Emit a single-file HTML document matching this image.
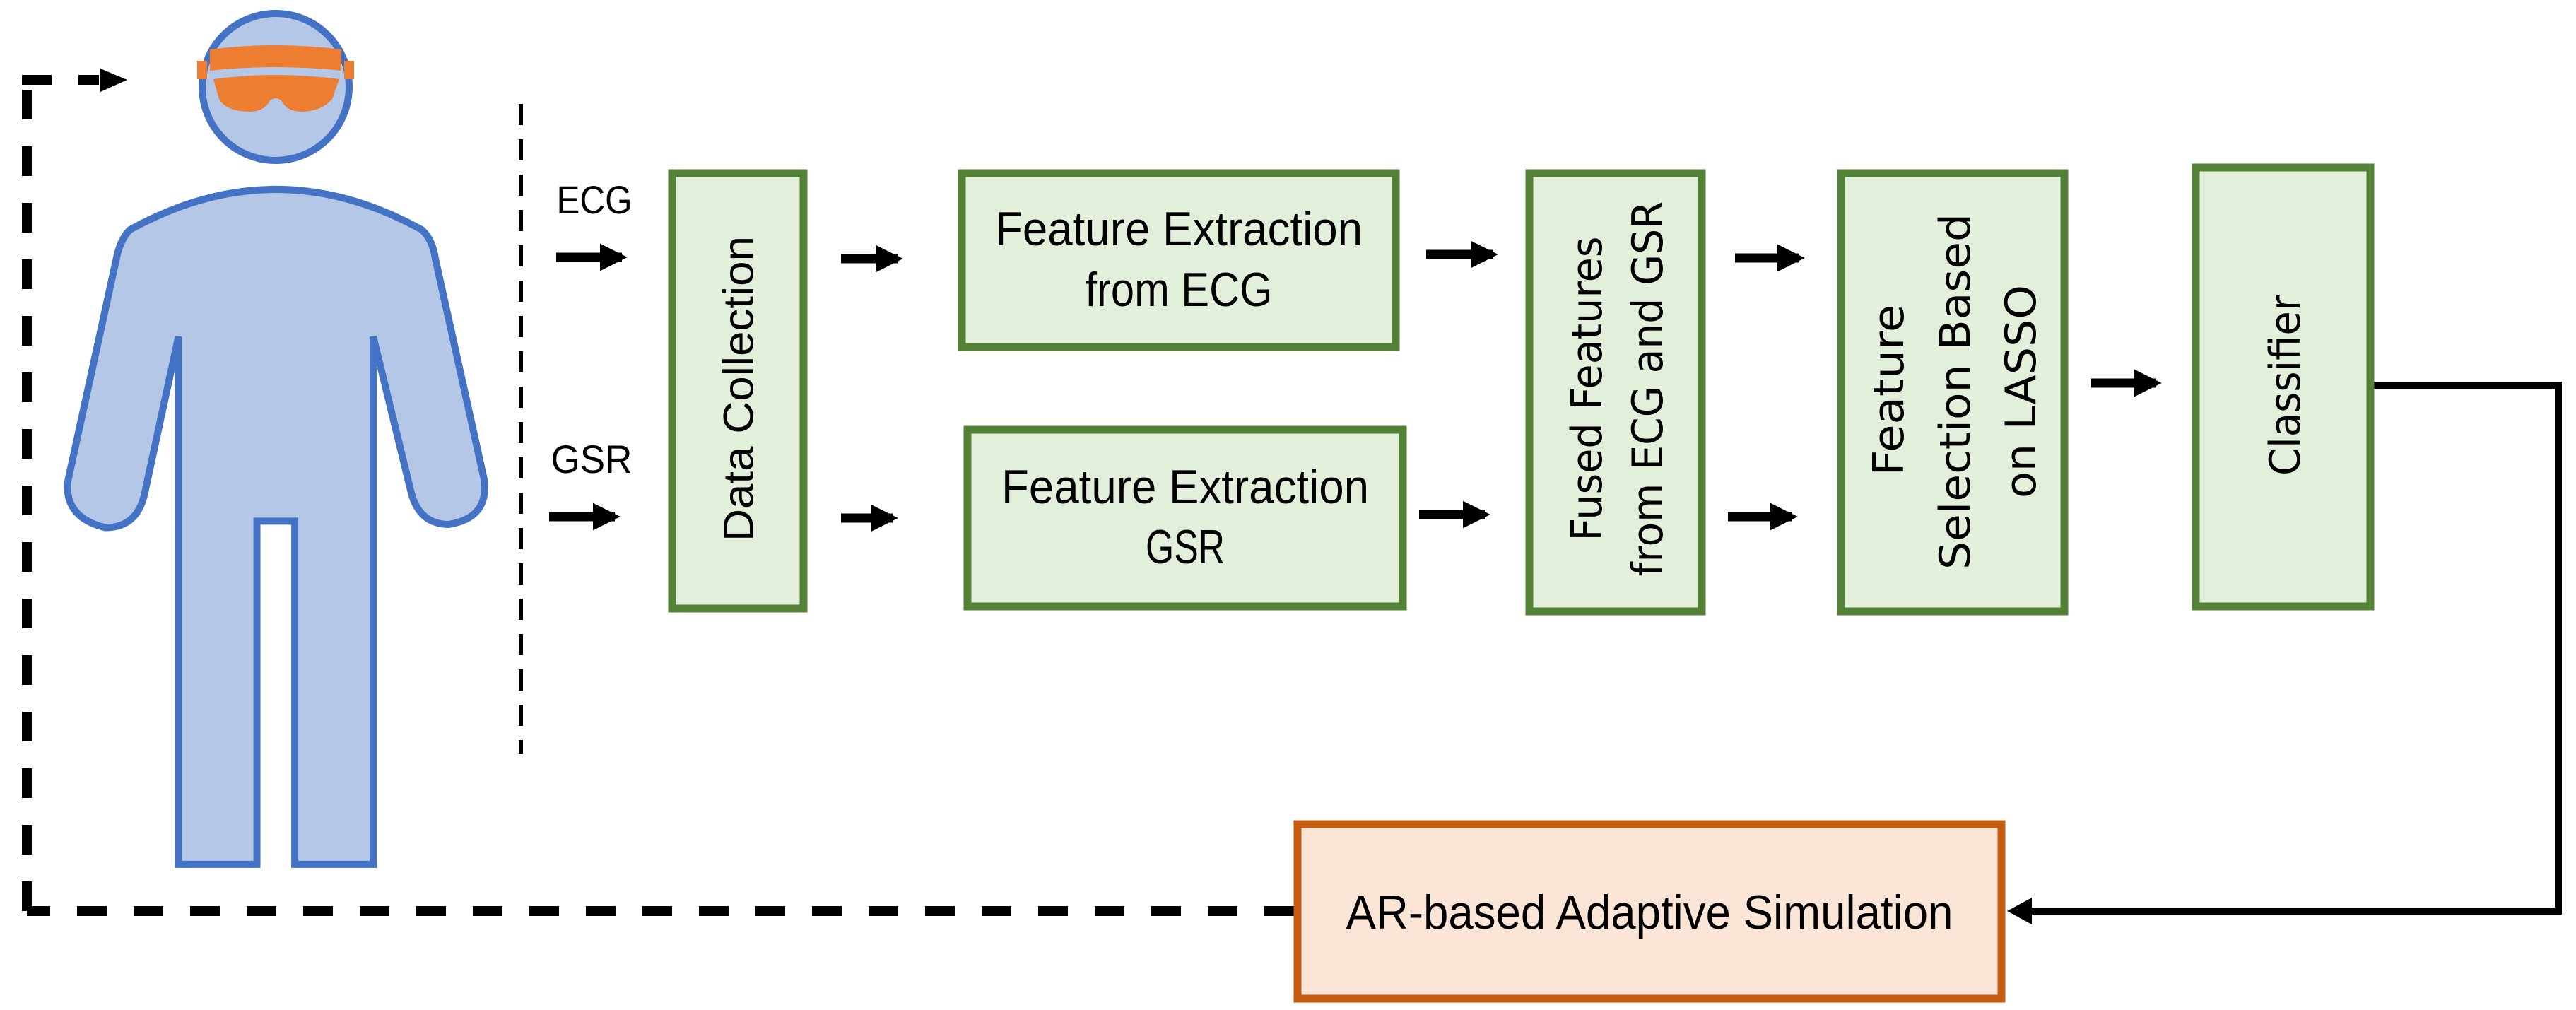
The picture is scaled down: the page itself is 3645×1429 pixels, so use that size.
<!DOCTYPE html>
<html><head><meta charset="utf-8"><style>html,body{margin:0;padding:0;background:#fff}svg{display:block}</style></head>
<body>
<svg width="3645" height="1429" viewBox="0 0 3645 1429" xmlns="http://www.w3.org/2000/svg">
<defs>
<marker id="ah" markerWidth="3" markerHeight="3" refX="2.4" refY="1.5" orient="auto" markerUnits="strokeWidth"><path d="M0,0 L3,1.5 L0,3 z" fill="#000"/></marker>
</defs>
<rect width="3645" height="1429" fill="#fff"/>
<!-- person -->
<g transform="scale(0.7653,0.916)">
<path vector-effect="non-scaling-stroke" d="M240,355 Q510,230 780,355 Q800,370 805,400 L895,740 Q905,800 830,810 Q775,810 760,760 L690,520 L690,1335 L545,1335 L545,805 L475,805 L475,1335 L330,1335 L330,520 L268,760 Q255,815 195,815 Q120,800 125,745 L215,400 Q222,370 240,355 Z" fill="#b4c7e7" stroke="#4472c4" stroke-width="10" stroke-linejoin="miter"/>
</g>
<circle cx="390" cy="123" r="104" fill="#b4c7e7" stroke="#4472c4" stroke-width="10"/>
<path d="M297,70 Q390,58 483,70 L483,100 Q390,90 297,100 Z" fill="#ed7d31"/>
<rect x="279" y="86" width="14" height="26" fill="#ed7d31"/>
<rect x="487" y="86" width="14" height="26" fill="#ed7d31"/>
<path d="M302,112 Q390,100 480,112 L470,140 Q455,158 425,158 Q405,157 398,142 Q390,136 382,142 Q375,157 355,158 Q320,158 310,140 Z" fill="#ed7d31"/>
<!-- dashed loop -->
<g stroke="#000" stroke-width="14" fill="none" stroke-dasharray="42,38">
<path d="M1831,1289 L38,1289"/>
<path d="M38,1289 L38,113"/>
<path d="M31,113 L140,113" stroke-dasharray="42,38"/>
<path d="M737,147 L737,1067" stroke-width="6" stroke-dasharray="30,20"/>
</g>
<path d="M142,97 L180,113 L142,130 z" fill="#000"/>
<!-- solid arrows -->
<g stroke="#000" stroke-width="13" fill="none">
<path d="M787,364 L880,364" marker-end="url(#ah)"/>
<path d="M777,731 L870,731" marker-end="url(#ah)"/>
<path d="M1190,366 L1270,366" marker-end="url(#ah)"/>
<path d="M1190,733 L1263,733" marker-end="url(#ah)"/>
<path d="M2018,360 L2112,360" marker-end="url(#ah)"/>
<path d="M2008,728 L2101,728" marker-end="url(#ah)"/>
<path d="M2455,365 L2546,365" marker-end="url(#ah)"/>
<path d="M2445,731 L2536,731" marker-end="url(#ah)"/>
<path d="M2959,542 L3051,542" marker-end="url(#ah)"/>
</g>
<path d="M3359,545 L3620,545 L3620,1289 L2870,1289" stroke="#000" stroke-width="10" fill="none"/>
<path d="M2875,1270 L2840,1289 L2875,1308 z" fill="#000"/>
<!-- boxes -->
<g stroke="#538135" stroke-width="11" fill="#e2efda">
<rect x="951" y="245" width="186" height="616"/>
<rect x="1361" y="245" width="614" height="246"/>
<rect x="1369" y="608" width="616" height="250"/>
<rect x="2164" y="245" width="244" height="620"/>
<rect x="2605" y="245" width="316" height="620"/>
<rect x="3107" y="237" width="247" height="621"/>
</g>
<rect x="1836" y="1166" width="996" height="247" fill="#fbe5d6" stroke="#c55a11" stroke-width="11"/>
<!-- text -->
<g font-family="Liberation Sans, DejaVu Sans, sans-serif" fill="#000">
<text x="841" y="302" font-size="56" text-anchor="middle" textLength="107" lengthAdjust="spacingAndGlyphs">ECG</text>
<text x="837" y="669" font-size="56" text-anchor="middle" textLength="115" lengthAdjust="spacingAndGlyphs">GSR</text>
<text transform="translate(1045,550) rotate(-90)" font-size="60" text-anchor="middle" dominant-baseline="central" textLength="432" lengthAdjust="spacingAndGlyphs">Data Collection</text>
<text x="1668" y="347" font-size="68" text-anchor="middle" textLength="520" lengthAdjust="spacingAndGlyphs">Feature Extraction</text>
<text x="1668" y="433" font-size="68" text-anchor="middle" textLength="265" lengthAdjust="spacingAndGlyphs">from ECG</text>
<text x="1677" y="712" font-size="68" text-anchor="middle" textLength="520" lengthAdjust="spacingAndGlyphs">Feature Extraction</text>
<text x="1677" y="797" font-size="68" text-anchor="middle" textLength="112" lengthAdjust="spacingAndGlyphs">GSR</text>
<text transform="translate(2246,550) rotate(-90)" font-family="DejaVu Sans, sans-serif" font-size="60" text-anchor="middle" dominant-baseline="central" textLength="431" lengthAdjust="spacingAndGlyphs">Fused Features</text>
<text transform="translate(2332,550) rotate(-90)" font-family="DejaVu Sans, sans-serif" font-size="60" text-anchor="middle" dominant-baseline="central" textLength="531" lengthAdjust="spacingAndGlyphs">from ECG and GSR</text>
<text transform="translate(2673,552) rotate(-90)" font-family="DejaVu Sans, sans-serif" font-size="60" text-anchor="middle" dominant-baseline="central" textLength="243" lengthAdjust="spacingAndGlyphs">Feature</text>
<text transform="translate(2767,554) rotate(-90)" font-family="DejaVu Sans, sans-serif" font-size="60" text-anchor="middle" dominant-baseline="central" textLength="504" lengthAdjust="spacingAndGlyphs">Selection Based</text>
<text transform="translate(2860,554) rotate(-90)" font-family="DejaVu Sans, sans-serif" font-size="60" text-anchor="middle" dominant-baseline="central" textLength="302" lengthAdjust="spacingAndGlyphs">on LASSO</text>
<text transform="translate(3234,545) rotate(-90)" font-family="DejaVu Sans, sans-serif" font-size="60" text-anchor="middle" dominant-baseline="central" textLength="256" lengthAdjust="spacingAndGlyphs">Classifier</text>
<text x="2334" y="1314" font-size="68" text-anchor="middle" textLength="859" lengthAdjust="spacingAndGlyphs">AR-based Adaptive Simulation</text>
</g>
</svg>
</body></html>
